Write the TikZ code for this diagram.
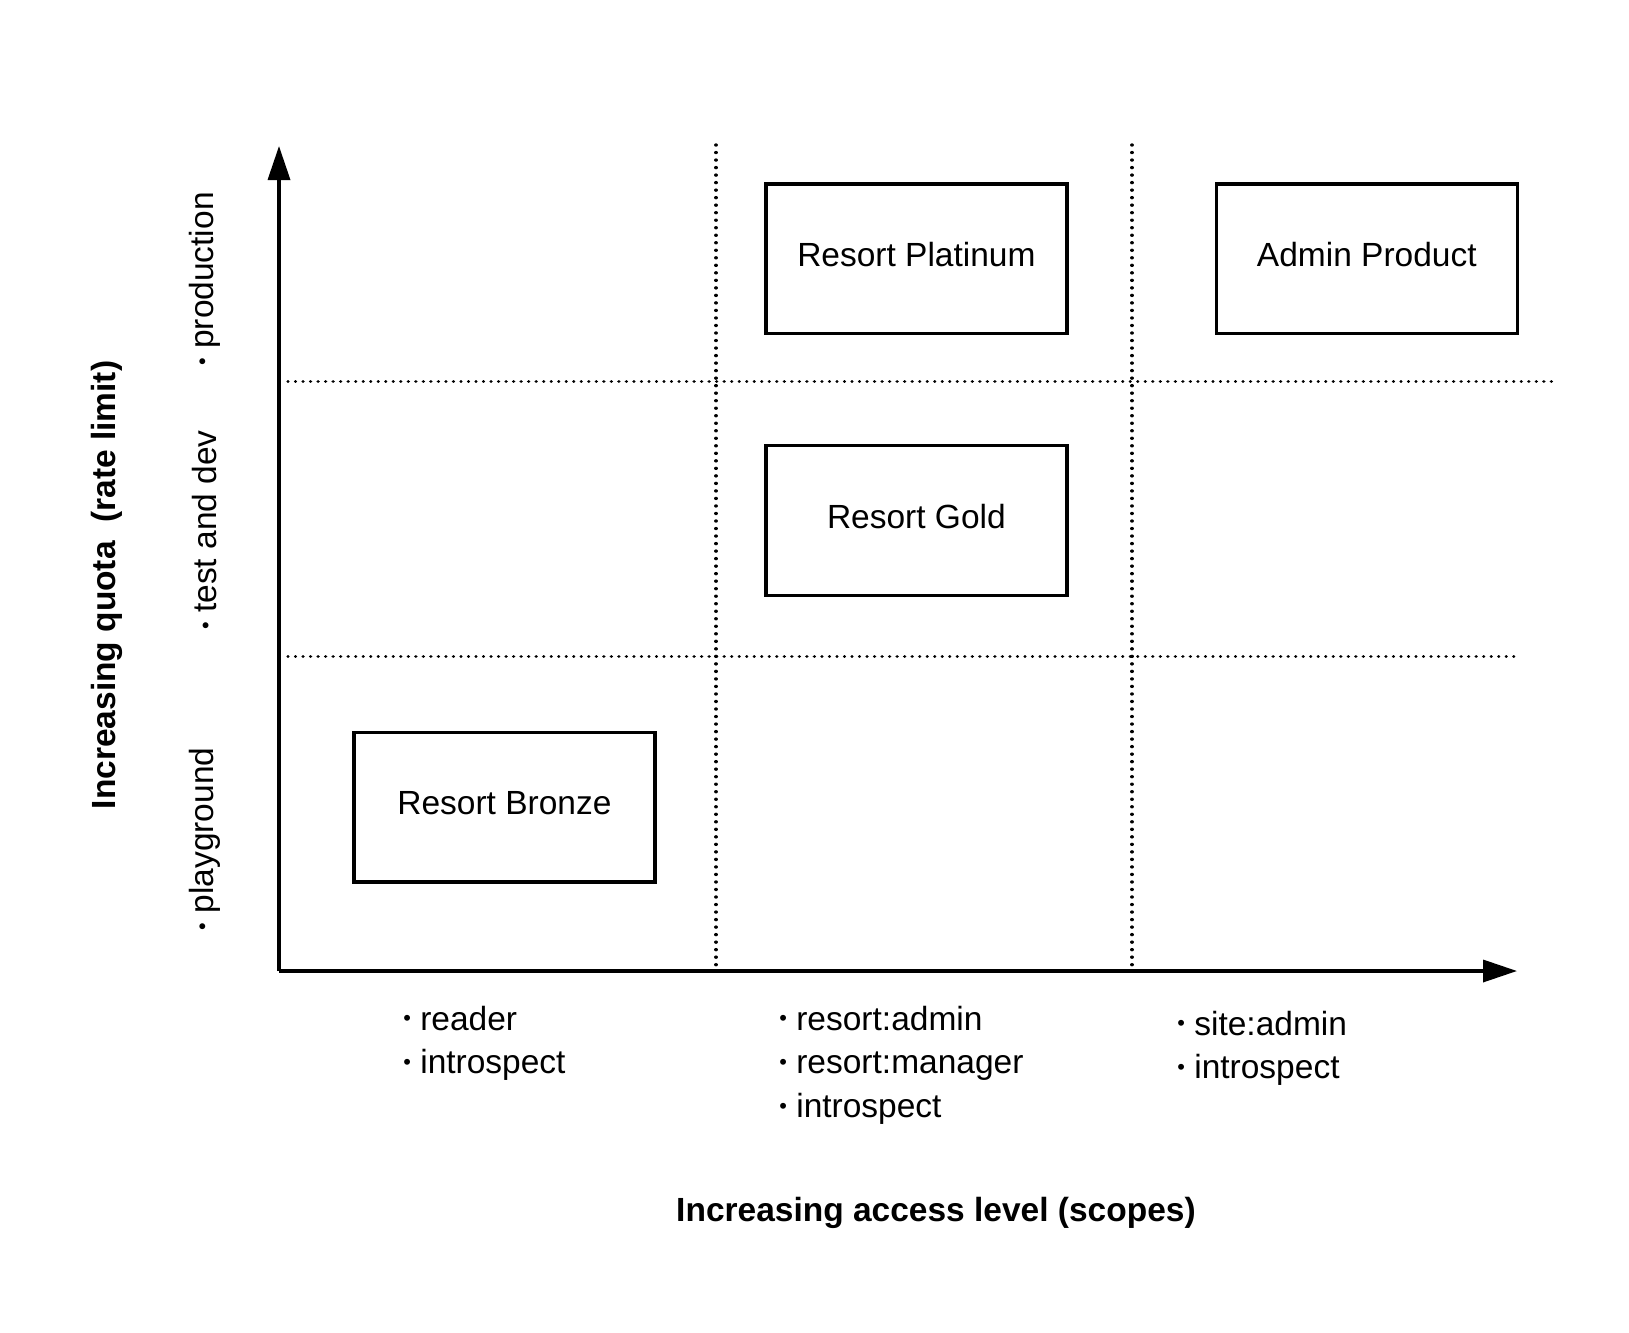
\documentclass[tikz,border=0pt]{standalone}
\usepackage{fontspec}
\setmainfont{Liberation Sans}
\usepackage{xcolor}
\usepackage{tikz}
\usetikzlibrary{positioning}
\usetikzlibrary{arrows.meta}
\tikzset{axis/.style = {->, > = {Triangle[length=17pt,width=11pt]}, line width=1.75pt}}
\tikzset{gridline/.style = {line width=1.7pt, dash pattern=on 0.01pt off 3.75pt, line cap=round}}
\newcommand{\itm}{\raisebox{0.12em}{\scalebox{0.65}{•}}\ }

\begin{document}
\begin{tikzpicture}[x=0.5pt,y=-0.5pt,node distance=130.85pt,
    tier/.style={draw,line width=1.6pt,minimum width=150.5pt,minimum height=74.75pt,inner sep=0pt,text depth=4.2pt,font=\fontsize{16.75}{20}\selectfont},
    scopes/.style={anchor=base west,align=left,inner sep=0pt,font=\fontsize{16.75}{21.8}\selectfont},
    env/.style={rotate=90,inner sep=0pt,font=\fontsize{16.75}{20}\selectfont},
    title/.style={inner sep=0pt,font=\fontsize{16.75}{20}\selectfont\bfseries}]
    \useasboundingbox (0,0) rectangle (1629,1333);

    \coordinate (o) at (279,971);
    \coordinate (ytop) at (279,146);
    \coordinate (xend) at (1517,971);

    % grid
    \draw[gridline] (716,145) -- (716,971);
    \draw[gridline] (1132,145) -- (1132,971);
    \draw[gridline] (288,381.5) -- (1555,381.5);
    \draw[gridline] (288,656.5) -- (1517,656.5);

    \draw[axis] (o) -- (ytop);
    \draw[axis] (o) -- (xend);

    \node[tier] (plat) at (916.4,258.8) {Resort Platinum};
    \node[tier,node distance=225.2pt,right of=plat] (admin) {Admin Product};
    \node[tier] (gold) [below of=plat] {Resort Gold};
    \node[tier] (bronze) at (504.4,807.2) {Resort Bronze};

    \node[env] (prod) at (205,279) {\itm production};
    \node[env] (dev) at (205,530) {\itm test and dev};
    \node[env] (play) at (205,839) {\itm playground};

    % base = last line
    \node[scopes] (sc1) at (403,1073.6) {\itm reader\\\itm introspect};
    \node[scopes] (sc2) at (779,1117.2) {\itm resort:admin\\\itm resort:manager\\\itm introspect};
    \node[scopes] (sc3) at (1177,1078.6) {\itm site:admin\\\itm introspect};

    \node[title,rotate=90] (quota) at (107,585) {Increasing quota \ (rate limit)};
    \node[title] (access) at (936,1213) {Increasing access level (scopes)};
\end{tikzpicture}
\end{document}
